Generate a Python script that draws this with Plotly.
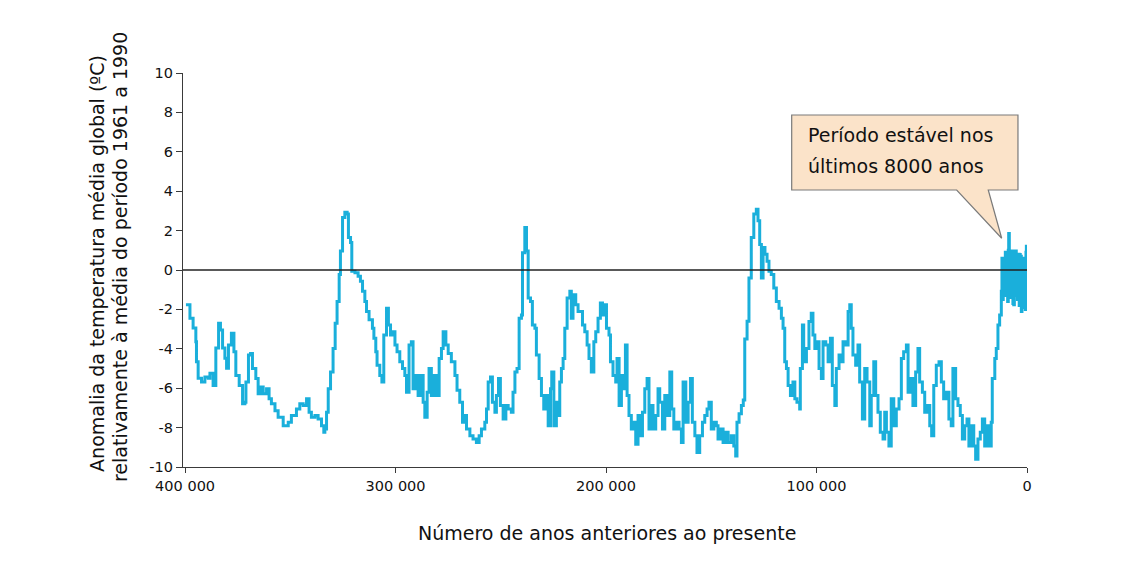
import plotly.graph_objects as go

# Age (thousands of years before present) and temperature anomaly (ºC)
age_ka = [
    399.6, 397.7, 396.2, 394.9, 394.6, 393.8, 392.2, 390.6, 389.0, 388.2, 386.7, 385.4, 384.1, 383.2,
    382.2, 381.1, 380.3, 379.4, 378.0, 376.8, 375.9, 374.3, 372.7, 371.6, 371.1, 369.9, 368.9, 368.0,
    366.4, 365.3, 364.2, 362.9, 361.3, 360.1, 359.0, 357.3, 355.8, 353.4, 351.0, 349.5, 347.1, 345.5,
    343.9, 342.3, 341.1, 340.0, 338.3, 336.8, 335.2, 334.1,
    333.6, 332.8, 332.0, 330.9, 329.7, 328.7, 327.8, 326.8, 326.2, 325.2, 324.1, 323.0, 322.4, 321.4,
    320.8, 319.3, 317.8, 316.7, 315.7, 314.6, 313.8, 312.6, 311.0, 310.3, 309.4, 308.8, 307.5, 306.5,
    305.6, 304.3, 303.4, 302.4, 301.2, 300.3, 299.3, 298.0, 296.7, 295.6, 294.8, 293.6, 292.5, 291.7,
    290.4, 289.3, 288.2, 286.9, 286.1, 285.0, 284.1, 283.0, 281.8, 280.6, 279.3, 278.2, 277.4, 276.1,
    275.0, 273.5, 271.8, 270.8, 269.5, 268.2,
    267.1, 266.3, 264.7, 263.2, 261.6, 260.3, 259.2, 257.6, 256.8, 256.0, 254.9, 254.0, 252.8, 252.1,
    251.1, 250.2, 248.9, 247.6, 246.5, 245.0, 244.2, 243.3, 242.3, 241.3, 240.2, 239.7, 238.6, 237.8,
    237.0, 235.9, 235.0, 233.8, 233.1, 231.8, 230.7, 229.6, 228.3, 227.5, 226.4, 225.8, 224.8, 223.6,
    222.8, 222.0, 221.2, 220.4, 219.6, 218.5, 217.2, 216.5, 215.7, 214.4, 213.3, 212.2, 211.2, 210.1,
    209.0, 208.1, 207.0, 205.8, 204.9, 203.8, 202.7, 201.7,
    200.9, 199.8, 198.6, 197.9, 196.7, 195.4, 194.8, 193.8, 192.7, 191.6, 190.8, 190.0, 189.1, 188.0,
    186.8, 185.9, 184.8, 183.7, 182.7, 181.6, 180.5, 179.6, 178.5, 177.7, 176.4, 175.3, 174.5, 173.2,
    172.1, 171.0, 169.7, 168.8, 167.8, 166.6, 165.3, 164.2, 163.4, 162.1, 161.0, 159.9, 159.0, 157.8,
    156.8, 155.5, 154.2, 153.1, 152.0, 151.1, 150.0, 148.8, 147.6, 146.8, 145.7, 144.4, 143.1, 142.0,
    140.5, 139.3, 138.4, 137.8, 136.8, 135.7,
    134.8, 134.1, 133.0, 132.1, 131.0, 129.8, 128.6, 127.8, 127.0, 126.2, 125.4, 124.5, 123.5, 122.6,
    121.5, 120.3, 119.1, 117.8, 116.7, 115.9, 115.1, 114.3, 113.5, 112.4, 111.2, 110.3, 109.3, 108.0,
    107.7, 106.7, 106.1, 104.8, 103.6, 102.5, 101.7, 100.8, 99.8, 98.8, 97.7, 96.9, 95.6, 94.5,
    93.4, 92.5, 91.3, 90.6, 89.3, 88.2, 87.4, 86.1, 85.0, 84.2, 83.5, 82.7, 81.4, 80.3,
    79.5, 78.2, 77.1, 76.0, 74.7, 74.0, 72.8, 71.9, 70.8, 69.7, 68.4,
    67.6, 66.8, 65.6, 64.5, 63.3, 62.1, 60.8, 59.7, 58.6, 57.3, 56.5, 55.4, 54.2, 52.9,
    51.8, 51.0, 49.7, 48.6, 47.5, 46.2, 45.3, 44.3, 43.1, 41.8, 40.7, 39.6, 38.3, 37.1,
    36.0, 35.2, 33.9, 32.8, 31.7, 30.7, 29.6, 28.5, 27.6, 26.5, 25.3, 24.4, 23.3, 22.2,
    21.2, 20.1, 19.0, 18.1, 17.0, 16.5, 15.3, 14.6, 13.8, 13.0, 12.2,
    11.9, 11.6, 11.3, 11.0, 10.6, 10.3, 10.0, 9.7, 9.5, 9.2, 8.9, 8.7, 8.4, 8.1,
    7.9, 7.6, 7.3, 7.0, 6.7, 6.3, 6.0, 5.7, 5.4, 5.1, 4.8, 4.5, 4.3, 4.0,
    3.7, 3.5, 3.2, 2.9, 2.7, 2.4, 2.1, 1.9, 1.6, 1.3, 1.1, 0.8, 0.5, 0.3, 0.1, 0.0,
]

temp_anomaly = [
    -1.76, -2.45, -2.94, -3.64, -4.66, -5.50, -5.69, -5.43, -5.50, -5.24, -5.86, -3.96, -2.70, -3.04,
    -3.96, -4.48, -4.99, -3.81, -3.21, -4.15, -5.35, -5.86, -6.79, -6.71, -5.69, -4.32, -4.24, -5.00,
    -5.51, -6.28, -5.94, -6.28, -6.03, -6.54, -6.79, -7.14, -7.48, -7.90, -7.73, -7.39, -7.05, -6.79,
    -6.88, -6.54, -7.22, -7.48, -7.39, -7.56, -7.90, -8.24,
    -8.07, -7.22, -6.03, -5.18, -3.98, -2.70, -1.60, -0.23, 0.96, 2.67, 2.93, 2.84, 1.65, 1.39,
    -0.06, -0.14, -0.32, -0.57, -1.08, -1.60, -2.11, -2.53, -2.96, -3.47, -4.15, -4.83, -5.35, -5.69,
    -3.30, -1.94, -2.79, -3.30, -3.13, -3.81, -4.15, -4.66, -5.00, -5.35, -6.20, -3.81, -3.64, -6.03,
    -5.35, -6.37, -5.35, -6.71, -7.48, -6.20, -5.00, -6.37, -5.35, -6.37, -4.49, -3.98, -3.13, -3.81,
    -4.24, -4.66, -5.35, -6.11, -6.71, -7.73,
    -7.39, -8.07, -8.41, -8.58, -8.76, -8.41, -8.07, -7.73, -7.05, -5.69, -5.43, -6.71, -7.22, -6.37,
    -5.51, -6.88, -7.56, -6.88, -7.05, -7.22, -6.20, -5.18, -5.00, -2.45, -2.28, 0.88, 2.16, 0.96,
    -1.42, -1.60, -2.79, -2.96, -4.32, -5.51, -6.37, -7.05, -6.37, -7.90, -6.03, -5.18, -7.90, -6.71,
    -7.39, -5.69, -5.00, -4.49, -2.96, -1.42, -1.08, -2.45, -1.25, -1.76, -2.11, -2.11, -2.79, -3.13,
    -3.81, -4.49, -5.18, -3.64, -3.13, -2.45, -1.68, -2.28,
    -1.76, -2.96, -3.30, -4.66, -5.35, -5.69, -4.49, -6.88, -5.35, -6.03, -3.81, -6.37, -7.39, -8.07,
    -7.73, -8.84, -7.39, -8.41, -7.22, -6.03, -5.51, -8.07, -6.88, -8.07, -7.39, -6.03, -6.71, -8.07,
    -6.37, -7.39, -5.18, -7.05, -8.07, -7.73, -8.07, -8.76, -5.69, -7.73, -6.71, -5.51, -7.73, -8.41,
    -9.27, -8.41, -7.73, -7.39, -7.05, -6.71, -8.07, -7.73, -7.90, -8.58, -8.07, -8.76, -8.24, -8.76,
    -8.41, -8.93, -9.44, -7.73, -7.30, -6.88,
    -6.60, -3.50, -2.60, -0.40, 1.65, 2.84, 3.09, 2.50, 1.30, -0.40, 1.14, 0.80, 0.45, -0.06,
    -0.23, -0.91, -1.60, -1.94, -2.45, -2.96, -4.66, -5.00, -5.86, -6.37, -5.69, -6.54, -6.71, -7.05,
    -5.00, -2.79, -4.66, -3.98, -2.62, -2.19, -3.30, -3.98, -3.64, -5.00, -5.51, -3.64, -3.81, -4.66,
    -3.47, -5.86, -6.88, -5.00, -4.32, -4.66, -3.64, -3.81, -2.11, -1.76, -2.96, -4.32, -4.83, -3.81,
    -5.69, -7.56, -5.00, -5.69, -7.90, -6.37, -4.66, -6.37, -7.22, -8.24, -8.58,
    -7.22, -8.24, -8.93, -6.54, -7.90, -7.05, -6.54, -4.49, -4.15, -3.81, -6.20, -5.51, -6.88, -5.18,
    -3.98, -5.69, -6.20, -7.22, -6.88, -7.90, -8.41, -5.86, -4.83, -4.66, -5.69, -6.54, -6.20, -7.56,
    -7.90, -5.00, -6.54, -6.88, -7.39, -8.58, -7.90, -7.56, -8.93, -7.90, -8.93, -9.61, -8.58, -8.24,
    -7.56, -8.93, -7.90, -8.93, -7.73, -5.51, -4.49, -3.98, -2.79, -2.28, -1.08,
    0.60, -1.50, 0.50, -1.20, -0.90, 0.90, -1.30, 0.70, 0.80, -1.60, 1.00, 1.85, -0.80, 0.40,
    -1.40, 0.90, -1.20, 0.96, -1.70, -1.76, 0.50, -1.00, 0.96, -1.30, 0.60, -1.50, -1.08, 0.80,
    -1.80, 0.79, -0.90, 0.70, -2.11, -0.50, 0.50, 0.28, -1.90, 0.60, -1.60, -2.00, 0.90, 1.20, -1.10, -0.50,
]

y_tick_vals = [-10, -8, -6, -4, -2, 0, 2, 4, 6, 8, 10]
y_tick_text = ["-10", "-8", "-6", "-4", "-2", "0", "2", "4", "6", "8", "10"]
x_tick_vals = [400000, 300000, 200000, 100000, 0]
x_tick_text = ["400 000", "300 000", "200 000", "100 000", "0"]

y_title_lines = ["Anomalia da temperatura média global (ºC)",
                 "relativamente à média do período 1961 a 1990"]
x_title = "Número de anos anteriores ao presente"
callout_lines = ["Período estável nos", "últimos 8000 anos"]

FONT = "DejaVu Sans"
LINE_BLUE = "#1AAFDB"
AXIS = "#3a3a3a"
TXT = "#111111"

years = [a * 1000 for a in age_ka]

fig = go.Figure()
fig.add_trace(go.Scatter(
    x=years, y=temp_anomaly, mode="lines",
    line=dict(color=LINE_BLUE, width=3, shape="hv"),
    hoverinfo="skip", showlegend=False,
))

# zero reference line (drawn above the series)
fig.add_shape(type="line", xref="paper", yref="y", x0=0, x1=1, y0=0, y1=0,
              line=dict(color="#222222", width=1.5), layer="above")

# callout bubble (box + tail) in paper coordinates
bx0, bx1, by0, by1 = 0.7212, 0.9893, 0.7030, 0.8934
tl, tr, tipx, tipy = 0.9167, 0.9541, 0.9700, 0.5805
path = (f"M {bx0},{by1} L {bx1},{by1} L {bx1},{by0} L {tr},{by0} "
        f"L {tipx},{tipy} L {tl},{by0} L {bx0},{by0} Z")
fig.add_shape(type="path", xref="paper", yref="paper", path=path,
              fillcolor="#FBE3C9", line=dict(color="#7a7a7a", width=1.2), layer="above")
for txt, yy in zip(callout_lines, [0.8426, 0.7640]):
    fig.add_annotation(xref="paper", yref="paper", x=0.738, y=yy, xanchor="left", yanchor="middle",
                       text=txt, showarrow=False, align="left",
                       font=dict(family=FONT, size=19, color=TXT))

# axis titles
fig.add_annotation(xref="paper", yref="paper", x=0.5024, y=-0.1675, xanchor="center", yanchor="middle",
                   text=x_title, showarrow=False, font=dict(family=FONT, size=19, color=TXT))
fig.add_annotation(xref="paper", yref="paper", x=-0.1019, y=0.518, xanchor="center", yanchor="middle",
                   text=y_title_lines[0], textangle=-90, showarrow=False,
                   font=dict(family=FONT, size=19, color=TXT))
fig.add_annotation(xref="paper", yref="paper", x=-0.0746, y=0.533, xanchor="center", yanchor="middle",
                   text=y_title_lines[1], textangle=-90, showarrow=False,
                   font=dict(family=FONT, size=19, color=TXT))

fig.update_layout(
    width=1130, height=580,
    margin=dict(l=175, r=111, t=65, b=121),
    paper_bgcolor="white", plot_bgcolor="white",
    font=dict(family=FONT, size=14, color=TXT),
    xaxis=dict(range=[401000, 0], autorange=False, showgrid=False, zeroline=False,
               showline=True, linecolor=AXIS, linewidth=1.2,
               ticks="outside", ticklen=5, tickcolor=AXIS,
               tickvals=x_tick_vals, ticktext=x_tick_text,
               tickfont=dict(family=FONT, size=14.5, color=TXT)),
    yaxis=dict(range=[-10, 10], autorange=False, showgrid=False, zeroline=False,
               showline=True, linecolor=AXIS, linewidth=1.2,
               ticks="outside", ticklen=6, tickcolor=AXIS,
               tickvals=y_tick_vals, ticktext=y_tick_text,
               tickfont=dict(family=FONT, size=14.5, color=TXT)),
)

fig.write_html("out.html")
